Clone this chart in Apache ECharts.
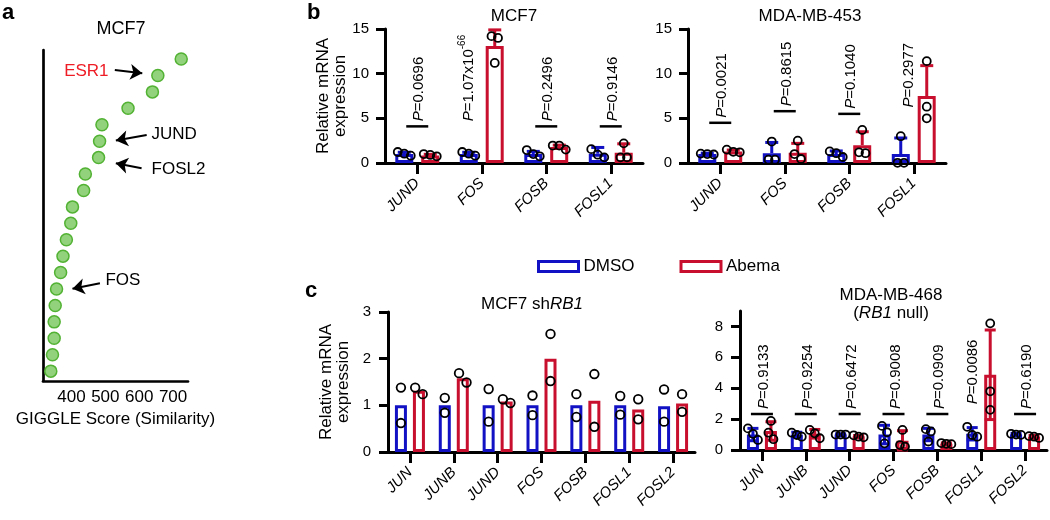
<!DOCTYPE html>
<html><head><meta charset="utf-8">
<script src="https://cdn.jsdelivr.net/npm/echarts@6/dist/echarts.min.js"></script>
<style>html,body{margin:0;padding:0;background:#fff}#c{width:1050px;height:520px}</style>
</head><body><div id="c"></div>
<script>
// ---------- DATA ----------
// Panel a: GIGGLE similarity scores (MCF7), ranked top to bottom
const giggleScore = [724, 655, 639, 567, 490, 483, 480, 441, 436, 403, 398, 385, 375, 368, 356, 352, 349, 349, 344, 339];
const giggleRank  = [1, 2, 3, 4, 5, 6, 7, 8, 9, 10, 11, 12, 13, 14, 15, 16, 17, 18, 19, 20];
const giggleTicks = [400, 500, 600, 700];

// Panel b
const bGenes = ['JUND', 'FOS', 'FOSB', 'FOSL1'];
const b1DmsoMean  = [1.0, 1.0, 1.0, 1.04];
const b1DmsoSd    = [0.2, 0.2, 0.3, 0.7];
const b1DmsoPts   = [[0.82, 1.23, 1.04], [0.82, 1.23, 1.04], [0.75, 1.45, 1.0], [0.63, 1.55, 0.93]];
const b1AbemaMean = [0.85, 13.1, 1.8, 1.15];
const b1AbemaSd   = [0.12, 1.8, 0.2, 1.0];
const b1AbemaPts  = [[0.75, 1.0, 0.9], [14.2, 14.0, 11.2], [1.5, 1.95, 1.95], [0.63, 2.2, 0.63]];
const b1P     = ['0.0696', '1.07x10^-66', '0.2496', '0.9146'];
const b1PY    = [4.1, 4.1, 4.1, 4.1];
const b1PLine = [true, false, true, true];

const b2DmsoMean  = [1.0, 1.1, 1.0, 1.0];
const b2DmsoSd    = [0.1, 1.2, 0.35, 1.8];
const b2DmsoPts   = [[0.95, 1.05, 1.0], [0.37, 2.4, 0.37], [0.67, 1.3, 1.1], [0.02, 3.0, 0.02]];
const b2AbemaMean = [1.3, 1.15, 2.0, 7.5];
const b2AbemaSd   = [0.15, 1.05, 1.5, 3.4];
const b2AbemaPts  = [[1.2, 1.5, 1.25], [0.45, 2.5, 1.0], [1.1, 3.7, 1.2], [5.0, 11.4, 6.3]];
const b2P     = ['0.0021', '0.8615', '0.1040', '0.2977'];
const b2PY    = [4.5, 5.8, 5.5, 5.65];
const b2PLine = [true, true, true, false];

// Panel c
const cGenes = ['JUN', 'JUNB', 'JUND', 'FOS', 'FOSB', 'FOSL1', 'FOSL2'];
const c1DmsoMean  = [1, 1, 1, 1, 1, 1, 0.98];
const c1DmsoPts   = [[1.38, 0.62], [1.16, 0.84], [1.35, 0.65], [1.21, 0.79], [1.24, 0.75], [1.2, 0.8], [1.34, 0.65]];
const c1AbemaMean = [1.31, 1.58, 1.08, 2.0, 1.1, 0.91, 1.04];
const c1AbemaPts  = [[1.24, 1.38], [1.69, 1.49], [1.05, 1.13], [2.53, 1.52], [1.67, 0.54], [1.13, 0.7], [1.24, 0.86]];

const c2DmsoMean  = [1.0, 1.0, 1.0, 1.0, 1.0, 1.05, 1.0];
const c2DmsoSd    = [0.4, 0.15, 0.05, 0.6, 0.4, 0.4, 0.08];
const c2DmsoPts   = [[1.4, 0.65, 1.05], [0.86, 1.12, 0.97], [1.0, 1.0, 1.0], [1.56, 1.15, 0.43], [1.35, 1.2, 0.55], [1.5, 0.86, 0.97], [1.0, 1.05, 0.98]];
const c2AbemaMean = [1.23, 1.05, 0.88, 0.6, 0.4, 4.87, 0.85];
const c2AbemaSd   = [0.6, 0.28, 0.06, 0.65, 0.06, 2.9, 0.1];
const c2AbemaPts  = [[1.88, 1.12, 0.7], [1.3, 0.76, 1.08], [0.82, 0.95, 0.86], [1.3, 0.32, 0.22], [0.45, 0.38, 0.4], [8.2, 3.8, 2.6], [0.9, 0.78, 0.86]];
const c2P     = ['0.9133', '0.9254', '0.6472', '0.9008', '0.0909', '0.0086', '0.6190'];
const c2PY    = [2.33, 2.33, 2.33, 2.33, 2.33, 2.64, 2.33];
const c2PLine = [true, true, true, true, true, false, true];

const bTicks = [0, 5, 10, 15];
const c1Ticks = [0, 1, 2, 3];
const c2Ticks = [0, 2, 4, 6, 8];

// ---------- STYLE ----------
const FONT = 'Liberation Sans';
const BLUE = '#1212c4', RED = '#c8102e', AX = '#000';

const chart = echarts.init(document.getElementById('c'));

function catAxis(gi, cats) {
  return { type: 'category', gridIndex: gi, data: cats, boundaryGap: true,
    axisLine: { show: true, onZero: true, lineStyle: { color: AX, width: 3 } },
    axisTick: { show: true, alignWithLabel: true, length: 11, lineStyle: { color: AX, width: 3 } },
    axisLabel: { show: true, interval: 0, rotate: 45, margin: 18, fontSize: 15, fontStyle: 'italic', color: AX, fontFamily: FONT },
    splitLine: { show: false } };
}
function valAxis(gi, max, ticks, name, nameGap, margin) {
  const o = { type: 'value', gridIndex: gi, min: 0, max: max,
    axisLine: { show: true, onZero: false, lineStyle: { color: AX, width: 3 } },
    axisTick: { show: true, length: 9, lineStyle: { color: AX, width: 3 }, customValues: ticks },
    axisLabel: { fontSize: 15, color: AX, fontFamily: FONT, margin: margin, customValues: ticks },
    splitLine: { show: false } };
  if (name) {
    o.name = name; o.nameLocation = 'middle'; o.nameGap = nameGap;
    o.nameTextStyle = { fontSize: 17, color: AX, fontFamily: FONT, lineHeight: 17 };
  }
  return o;
}

function jitter(pys, diam, step) {
  const idx = pys.map((y, k) => k).sort((a, b) => pys[a] - pys[b]);
  const clusters = []; let cur = [idx[0]];
  for (let j = 1; j < idx.length; j++) {
    if (pys[idx[j]] - pys[idx[j - 1]] < diam) cur.push(idx[j]);
    else { clusters.push(cur); cur = [idx[j]]; }
  }
  clusters.push(cur);
  const off = new Array(pys.length).fill(0);
  clusters.forEach(c => c.forEach((k, j) => { off[k] = (j - (c.length - 1) / 2) * step; }));
  return off;
}

function barSeries(gi, name, mean, color, bw, gap, fill) {
  return { type: 'bar', name: name, xAxisIndex: gi, yAxisIndex: gi, data: mean, barWidth: bw, barGap: gap,
    z: 3, silent: true, itemStyle: { color: fill, borderColor: color, borderWidth: 3 } };
}
function errSeries(gi, mean, sd, off, color, both, capW, z) {
  return { type: 'custom', name: 'err', xAxisIndex: gi, yAxisIndex: gi, z: z, silent: true,
    data: mean.map((m, i) => [i, m, sd[i]]), encode: { x: 0, y: 1 },
    renderItem: (params, api) => {
      const i = api.value(0), m = api.value(1), s = api.value(2);
      const top = api.coord([i, m + s]), mid = api.coord([i, m]), bot = api.coord([i, Math.max(0, m - s)]);
      const x = top[0] + off; const st = { stroke: color, lineWidth: 3 };
      const ch = [
        { type: 'line', shape: { x1: x, y1: top[1], x2: x, y2: both ? bot[1] : mid[1] }, style: st },
        { type: 'line', shape: { x1: x - capW / 2, y1: top[1], x2: x + capW / 2, y2: top[1] }, style: st }];
      if (both) ch.push({ type: 'line', shape: { x1: x - capW / 2, y1: bot[1], x2: x + capW / 2, y2: bot[1] }, style: st });
      return { type: 'group', children: ch };
    } };
}
function ptsSeries(gi, pts, off, r, step) {
  const data = []; pts.forEach((g, i) => g.forEach((v, k) => data.push([i, v, k])));
  return { type: 'custom', name: 'pts', xAxisIndex: gi, yAxisIndex: gi, z: 6, silent: true, data: data, encode: { x: 0, y: 1 },
    renderItem: (params, api) => {
      const i = api.value(0), k = api.value(2);
      const pys = pts[i].map(v => api.coord([i, v])[1]);
      const offs = jitter(pys, 2 * r + 1, step);
      const c = api.coord([i, api.value(1)]);
      return { type: 'circle', shape: { cx: c[0] + off + offs[k], cy: c[1], r: r },
        style: { fill: 'none', stroke: '#000', lineWidth: 1.8 } };
    } };
}
const P_RICH = {
  i: { fontStyle: 'italic', fontSize: 15, fontFamily: FONT, lineHeight: 19, verticalAlign: 'bottom', fill: '#000' },
  n: { fontSize: 15, fontFamily: FONT, lineHeight: 19, verticalAlign: 'bottom', fill: '#000' },
  s: { fontSize: 10, fontFamily: FONT, lineHeight: 11, verticalAlign: 'top', fill: '#000' }
};
function pRich(s) {
  const m = s.split('^');
  let t = '{i|P}{n|=' + m[0] + '}';
  if (m[1]) t += '{s|' + m[1] + '}';
  return t;
}
function pSeries(gi, texts, ys, lines, shift) {
  return { type: 'custom', name: 'pval', xAxisIndex: gi, yAxisIndex: gi, z: 7, silent: true,
    data: ys.map((y, i) => [i, y]), encode: { x: 0, y: 1 },
    renderItem: (params, api) => {
      const k = params.dataIndex;
      const c = api.coord([api.value(0), api.value(1)]);
      const ch = []; let x = c[0];
      if (lines[k]) ch.push({ type: 'line', shape: { x1: c[0] - 11, y1: c[1], x2: c[0] + 11, y2: c[1] }, style: { stroke: '#000', lineWidth: 2.5 } });
      else x = c[0] - shift;
      ch.push({ type: 'text', x: x, y: c[1] - 5, rotation: Math.PI / 2,
        style: { text: pRich(texts[k]), rich: P_RICH, align: 'left', verticalAlign: 'middle', fill: '#000', fontSize: 15, fontFamily: FONT } });
      return { type: 'group', children: ch };
    } };
}

// panel a annotation arrows and labels (data coordinates)
const annArrows = [
  [{ coord: [528, 1.67] }, { coord: [609, 1.87] }],
  [{ coord: [622, 5.62] }, { coord: [531, 5.96] }],
  [{ coord: [607, 7.65] }, { coord: [531, 7.35] }],
  [{ coord: [484, 14.65] }, { coord: [403, 14.98] }]
];
const annTexts = [
  { name: 'ESR1', coord: [514, 1.73], label: { position: 'left', color: '#ee1c25' } },
  { name: 'JUND', coord: [632, 5.56], label: { position: 'right' } },
  { name: 'FOSL2', coord: [632, 7.69], label: { position: 'right' } },
  { name: 'FOS', coord: [496, 14.45], label: { position: 'right' } }
];

const grids = [
  { left: 43, top: 50, width: 145, height: 331 },
  { left: 385, top: 29, width: 258, height: 134 },
  { left: 688, top: 29, width: 258, height: 134 },
  { left: 388, top: 312, width: 307, height: 140 },
  { left: 740, top: 311, width: 307, height: 139 }
].map(g => Object.assign({ outerBoundsMode: 'none', containLabel: false }, g));

const xAxes = [
  { type: 'value', gridIndex: 0, min: 316, max: 744, name: 'GIGGLE Score (Similarity)', nameLocation: 'middle', nameGap: 28,
    nameTextStyle: { fontSize: 17, color: AX, fontFamily: FONT },
    axisLine: { show: true, onZero: false, lineStyle: { color: AX, width: 2.7 } }, axisTick: { show: false },
    axisLabel: { customValues: giggleTicks, fontSize: 17, color: AX, fontFamily: FONT, margin: 8 }, splitLine: { show: false } },
  catAxis(1, bGenes), catAxis(2, bGenes), catAxis(3, cGenes), catAxis(4, cGenes)
];
const yAxes = [
  { type: 'value', gridIndex: 0, min: 0.45, max: 20.6, inverse: true,
    axisLine: { show: true, onZero: false, lineStyle: { color: AX, width: 2.7 } }, axisTick: { show: false },
    axisLabel: { show: false }, splitLine: { show: false } },
  valAxis(1, 15, bTicks, 'Relative mRNA\nexpression', 32, 16),
  valAxis(2, 15, bTicks, null, 0, 16),
  valAxis(3, 3, c1Ticks, 'Relative mRNA\nexpression', 36, 17),
  valAxis(4, 9, c2Ticks, null, 0, 17)
];

const series = [
  { type: 'scatter', name: 'giggle', xAxisIndex: 0, yAxisIndex: 0, silent: true, z: 3,
    data: giggleScore.map((s, i) => [s, giggleRank[i]]), symbolSize: 12,
    itemStyle: { color: '#92d27c', borderColor: '#52b233', borderWidth: 1.5, opacity: 1 },
    markLine: { silent: true, symbol: ['none', 'arrow'], symbolSize: 12, animation: false,
      lineStyle: { color: '#000', width: 2, type: 'solid' }, label: { show: false }, data: annArrows },
    markPoint: { silent: true, symbol: 'circle', symbolSize: 1, itemStyle: { color: 'rgba(0,0,0,0)' }, animation: false,
      label: { show: true, formatter: '{b}', distance: 1, fontSize: 17, color: '#000', fontFamily: FONT }, data: annTexts } }
];
// b1
series.push(errSeries(1, b1DmsoMean, b1DmsoSd, -13, BLUE, false, 13, 2));
series.push(errSeries(1, b1AbemaMean, b1AbemaSd, 13, RED, false, 13, 2));
series.push(barSeries(1, 'DMSO', b1DmsoMean, BLUE, 18, '44%', '#fff'));
series.push(barSeries(1, 'Abema', b1AbemaMean, RED, 18, '44%', '#fff'));
series.push(ptsSeries(1, b1DmsoPts, -13, 4, 6.5));
series.push(ptsSeries(1, b1AbemaPts, 13, 4, 6.5));
series.push(pSeries(1, b1P, b1PY, b1PLine, 15));
// b2
series.push(errSeries(2, b2DmsoMean, b2DmsoSd, -13, BLUE, false, 13, 2));
series.push(errSeries(2, b2AbemaMean, b2AbemaSd, 13, RED, false, 13, 2));
series.push(barSeries(2, 'DMSO', b2DmsoMean, BLUE, 18, '44%', '#fff'));
series.push(barSeries(2, 'Abema', b2AbemaMean, RED, 18, '44%', '#fff'));
series.push(ptsSeries(2, b2DmsoPts, -13, 4, 6.5));
series.push(ptsSeries(2, b2AbemaPts, 13, 4, 6.5));
series.push(pSeries(2, b2P, b2PY, b2PLine, 7));
// c1
series.push(barSeries(3, 'DMSO', c1DmsoMean, BLUE, 12, '50%', '#fff'));
series.push(barSeries(3, 'Abema', c1AbemaMean, RED, 12, '50%', '#fff'));
series.push(ptsSeries(3, c1DmsoPts, -9, 4.3, 7.5));
series.push(ptsSeries(3, c1AbemaPts, 9, 4.3, 7.5));
// c2
series.push(barSeries(4, 'DMSO', c2DmsoMean, BLUE, 12, '50%', 'rgba(255,255,255,0)'));
series.push(barSeries(4, 'Abema', c2AbemaMean, RED, 12, '50%', 'rgba(255,255,255,0)'));
series.push(errSeries(4, c2DmsoMean, c2DmsoSd, -9, BLUE, true, 11, 4));
series.push(errSeries(4, c2AbemaMean, c2AbemaSd, 9, RED, true, 11, 4));
series.push(ptsSeries(4, c2DmsoPts, -9, 4, 5));
series.push(ptsSeries(4, c2AbemaPts, 9, 4, 5));
series.push(pSeries(4, c2P, c2PY, c2PLine, 10));

function txt(x, y, text, size, extra) {
  return Object.assign({ type: 'text', x: x, y: y, silent: true,
    style: Object.assign({ text: text, fontSize: size, fontFamily: FONT, fill: '#000', align: 'center', verticalAlign: 'middle' }, extra || {}) });
}
const graphics = [
  txt(2, 2, 'a', 22, { fontWeight: 'bold', align: 'left', verticalAlign: 'top' }),
  txt(307, 2, 'b', 22, { fontWeight: 'bold', align: 'left', verticalAlign: 'top' }),
  txt(305, 280, 'c', 22, { fontWeight: 'bold', align: 'left', verticalAlign: 'top' }),
  txt(121, 29, 'MCF7', 18),
  txt(514, 16, 'MCF7', 17),
  txt(810, 16, 'MDA-MB-453', 17),
  txt(532, 304, '{n|MCF7 sh}{i|RB1}', 17, { rich: { n: { fontSize: 17, fontFamily: FONT }, i: { fontSize: 17, fontFamily: FONT, fontStyle: 'italic' } } }),
  txt(891, 295, 'MDA-MB-468', 17),
  txt(891, 313, '{n|(}{i|RB1}{n| null)}', 17, { rich: { n: { fontSize: 17, fontFamily: FONT }, i: { fontSize: 17, fontFamily: FONT, fontStyle: 'italic' } } })
];

chart.setOption({
  animation: false,
  backgroundColor: '#fff',
  grid: grids,
  xAxis: xAxes,
  yAxis: yAxes,
  legend: { left: 532, top: 253, itemWidth: 40, itemHeight: 10, itemGap: 45, selectedMode: false,
    textStyle: { fontSize: 17, color: '#000', fontFamily: FONT },
    data: [
      { name: 'DMSO', icon: 'rect', itemStyle: { color: '#fff', borderColor: BLUE, borderWidth: 3 } },
      { name: 'Abema', icon: 'rect', itemStyle: { color: '#fff', borderColor: RED, borderWidth: 3 } }
    ] },
  graphic: graphics,
  series: series
});
</script>
</body></html>
